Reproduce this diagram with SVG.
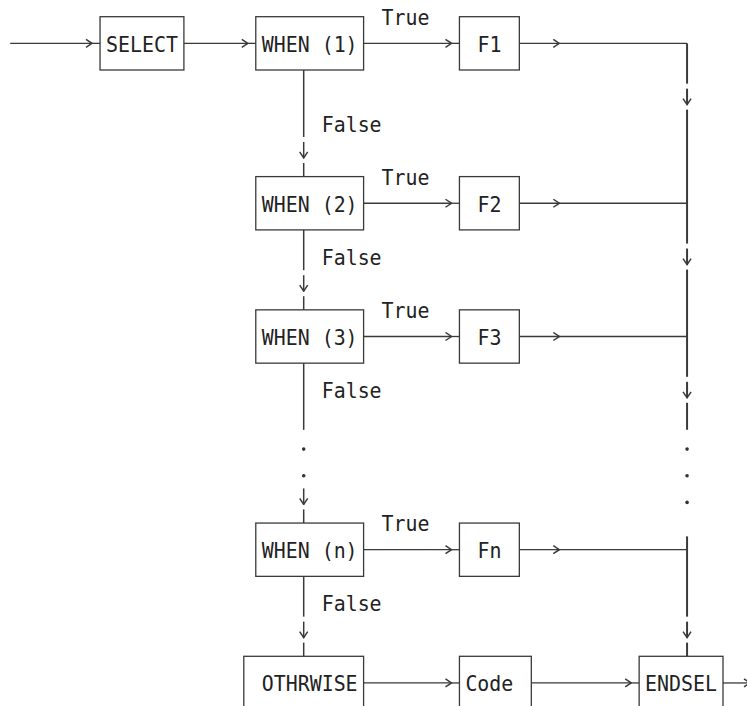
<svg xmlns="http://www.w3.org/2000/svg" width="747" height="706" viewBox="0 0 747 706">
<defs>
<style>
.box{fill:none;stroke:#3a3a3a;stroke-width:1.3}
.t{font-family:"DejaVu Sans Mono","Liberation Mono",monospace;font-size:21px;fill:#222;lengthAdjust:spacingAndGlyphs}
.h{fill:none;stroke:#3a3a3a;stroke-width:1.3}
.vl{fill:none;stroke:#3a3a3a;stroke-width:1.5}
.vr{fill:none;stroke:#3a3a3a;stroke-width:2}
.a{marker-end:url(#ah)}
.dot{fill:#333}
</style>
<marker id="ah" viewBox="0 0 8 10" refX="7" refY="5" markerWidth="8" markerHeight="10" markerUnits="userSpaceOnUse" orient="auto">
<path d="M1,1 L7,5 L1,9" fill="none" stroke="#3a3a3a" stroke-width="1.5"/>
</marker>
</defs>
<rect width="747" height="706" fill="#fff"/>

<g id="connectors">
<!-- row 1 -->
<path class="h a" d="M10.2,43.35 H92"/><path class="h" d="M92,43.35 H100"/>
<path class="h a" d="M183.9,43.35 H247.8"/><path class="h" d="M247.8,43.35 H255.8"/>
<path class="h a" d="M363.6,43.35 H451.5"/><path class="h" d="M451.5,43.35 H459.4"/>
<path class="h a" d="M519.3,43.35 H559.3"/><path class="h" d="M559.3,43.35 H687.06"/>
<!-- row 7 -->
<path class="h a" d="M363.6,203.25 H451.5"/><path class="h" d="M451.5,203.25 H459.4"/>
<path class="h a" d="M519.3,203.25 H559.3"/><path class="h" d="M559.3,203.25 H687.06"/>
<!-- row 12 -->
<path class="h a" d="M363.6,336.5 H451.5"/><path class="h" d="M451.5,336.5 H459.4"/>
<path class="h a" d="M519.3,336.5 H559.3"/><path class="h" d="M559.3,336.5 H687.06"/>
<!-- row 20 -->
<path class="h a" d="M363.6,549.7 H451.5"/><path class="h" d="M451.5,549.7 H459.4"/>
<path class="h a" d="M519.3,549.7 H559.3"/><path class="h" d="M559.3,549.7 H687.06"/>
<!-- row 25 -->
<path class="h a" d="M363.6,682.95 H451.5"/><path class="h" d="M451.5,682.95 H459.4"/>
<path class="h a" d="M531.3,682.95 H631.2"/><path class="h" d="M631.2,682.95 H639.1"/>
<path class="h a" d="M723,682.95 H750"/>

<!-- left vertical -->
<path class="vl" d="M303.7,70 V136.95"/><path class="vl a" d="M303.7,141.95 V157.95"/><path class="vl" d="M303.7,162.95 V176.6"/>
<path class="vl" d="M303.7,229.9 V270.2"/><path class="vl a" d="M303.7,275.2 V291.2"/><path class="vl" d="M303.7,296.2 V309.85"/>
<path class="vl" d="M303.7,363.15 V429.8"/>
<circle class="dot" cx="303.7" cy="449.1" r="1.8"/><circle class="dot" cx="303.7" cy="475.75" r="1.8"/>
<path class="vl a" d="M303.7,488.4 V504.4"/><path class="vl" d="M303.7,509.4 V523.05"/>
<path class="vl" d="M303.7,576.35 V616.65"/><path class="vl a" d="M303.7,621.65 V637.65"/><path class="vl" d="M303.7,642.65 V656.3"/>

<!-- right vertical -->
<path class="vr" d="M687.06,43.35 V83.65"/><path class="vr a" d="M687.06,88.65 V104.65"/>
<path class="vr" d="M687.06,109.65 V243.55"/><path class="vr a" d="M687.06,248.55 V264.55"/>
<path class="vr" d="M687.06,269.55 V376.8"/><path class="vr a" d="M687.06,381.8 V397.8"/>
<path class="vr" d="M687.06,402.8 V429.8"/>
<circle class="dot" cx="687.06" cy="449.1" r="1.8"/><circle class="dot" cx="687.06" cy="475.75" r="1.8"/><circle class="dot" cx="687.06" cy="502.4" r="1.8"/>
<path class="vr" d="M687.06,536.4 V616.65"/><path class="vr a" d="M687.06,621.65 V637.65"/><path class="vr" d="M687.06,642.65 V656.3"/>
</g>

<g id="labels">
<text class="t" x="381.6" y="25" textLength="47.9" lengthAdjust="spacingAndGlyphs">True</text>
<text class="t" x="381.6" y="184.9" textLength="47.9" lengthAdjust="spacingAndGlyphs">True</text>
<text class="t" x="381.6" y="318.15" textLength="47.9" lengthAdjust="spacingAndGlyphs">True</text>
<text class="t" x="381.6" y="531.35" textLength="47.9" lengthAdjust="spacingAndGlyphs">True</text>
<text class="t" x="321.7" y="131.6" textLength="59.9" lengthAdjust="spacingAndGlyphs">False</text>
<text class="t" x="321.7" y="264.85" textLength="59.9" lengthAdjust="spacingAndGlyphs">False</text>
<text class="t" x="321.7" y="398.1" textLength="59.9" lengthAdjust="spacingAndGlyphs">False</text>
<text class="t" x="321.7" y="611.3" textLength="59.9" lengthAdjust="spacingAndGlyphs">False</text>
</g>

<g id="select"><rect class="box" x="100.04" y="16.7" width="83.86" height="53.3"/><text class="t" x="106" y="51.65" textLength="71.9" lengthAdjust="spacingAndGlyphs">SELECT</text></g>
<g id="when1"><rect class="box" x="255.78" y="16.7" width="107.82" height="53.3"/><text class="t" x="261.8" y="51.65" textLength="95.8" lengthAdjust="spacingAndGlyphs">WHEN (1)</text></g>
<g id="f1"><rect class="box" x="459.44" y="16.7" width="59.9" height="53.3"/><text class="t" x="477.4" y="51.65" textLength="24" lengthAdjust="spacingAndGlyphs">F1</text></g>
<g id="when2"><rect class="box" x="255.78" y="176.6" width="107.82" height="53.3"/><text class="t" x="261.8" y="211.55" textLength="95.8" lengthAdjust="spacingAndGlyphs">WHEN (2)</text></g>
<g id="f2"><rect class="box" x="459.44" y="176.6" width="59.9" height="53.3"/><text class="t" x="477.4" y="211.55" textLength="24" lengthAdjust="spacingAndGlyphs">F2</text></g>
<g id="when3"><rect class="box" x="255.78" y="309.85" width="107.82" height="53.3"/><text class="t" x="261.8" y="344.8" textLength="95.8" lengthAdjust="spacingAndGlyphs">WHEN (3)</text></g>
<g id="f3"><rect class="box" x="459.44" y="309.85" width="59.9" height="53.3"/><text class="t" x="477.4" y="344.8" textLength="24" lengthAdjust="spacingAndGlyphs">F3</text></g>
<g id="whenn"><rect class="box" x="255.78" y="523.05" width="107.82" height="53.3"/><text class="t" x="261.8" y="558" textLength="95.8" lengthAdjust="spacingAndGlyphs">WHEN (n)</text></g>
<g id="fn"><rect class="box" x="459.44" y="523.05" width="59.9" height="53.3"/><text class="t" x="477.4" y="558" textLength="24" lengthAdjust="spacingAndGlyphs">Fn</text></g>
<g id="otherwise"><rect class="box" x="243.8" y="656.3" width="119.8" height="53.3"/><text class="t" x="261.8" y="691.25" textLength="95.8" lengthAdjust="spacingAndGlyphs">OTHRWISE</text></g>
<g id="code"><rect class="box" x="459.44" y="656.3" width="71.88" height="53.3"/><text class="t" x="465.4" y="691.25" textLength="47.9" lengthAdjust="spacingAndGlyphs">Code</text></g>
<g id="endsel"><rect class="box" x="639.14" y="656.3" width="83.86" height="53.3"/><text class="t" x="645.1" y="691.25" textLength="71.9" lengthAdjust="spacingAndGlyphs">ENDSEL</text></g>
</svg>
